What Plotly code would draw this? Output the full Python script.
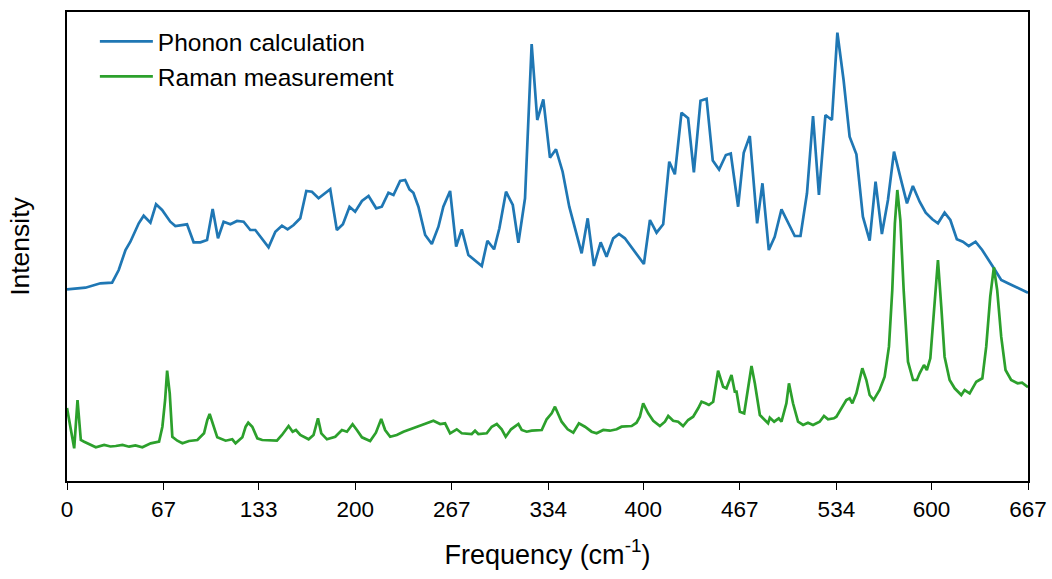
import plotly.graph_objects as go

# Calculated phonon density of states (arbitrary intensity units)
phonon_freq = [0, 12.8, 23.2, 31.3, 35.9, 40.6, 44.0, 49.8, 53.2, 57.9, 61.8, 66.0, 71.7, 75.2,
               83.3, 87.9, 92.6, 97.2, 101.1, 104.8, 108.7, 113.4, 118.0, 122.6, 127.2, 130.7,
               139.9, 144.6, 149.2, 153.1, 157.3, 161.9, 166.1, 170.0, 174.6, 182.7, 187.3,
               191.5, 196.1, 200.0, 204.7, 209.3, 214.6, 218.5, 223.1, 226.6, 231.2, 234.7,
               237.7, 240.4, 243.9, 248.6, 253.2, 257.8, 261.2, 265.9, 270.1, 274.0, 278.6,
               287.9, 291.8, 296.4, 300.1, 304.7, 309.4, 313.3, 317.9, 322.5, 326.4, 330.6,
               335.2, 339.4, 344.0, 348.6, 357.2, 361.4, 365.7, 370.4, 374.5, 379.1, 383.1,
               387.2, 400.4, 404.6, 409.2, 413.8, 418.0, 421.9, 426.5, 431.1, 435.1, 439.7,
               443.9, 448.2, 452.6, 457.3, 460.7, 465.8, 469.7, 473.9, 479.0, 482.7, 487.1,
               491.2, 495.9, 505.1, 509.1, 513.6, 517.8, 521.9, 526.4, 530.9, 534.7, 539.0,
               543.2, 547.9, 552.4, 557.1, 561.2, 565.6, 569.8, 574.0, 578.6, 583.0, 587.1,
               591.8, 596.0, 600.6, 604.5, 609.1, 613.1, 617.6, 621.8, 625.9, 630.6, 635.2,
               643.8, 648.4, 653.1, 662.3, 667.0]
phonon_int = [191.7, 193.3, 197.7, 198.3, 211, 231, 239.3, 257.7, 265.3, 258.3, 276.7, 271, 259.3, 255,
              256.7, 238.7, 238.7, 241, 272, 242.7, 259.3, 256.7, 260, 259.3, 251, 251,
              233.7, 249.3, 255.3, 251.7, 256, 262.7, 290, 289.3, 282.7, 291.7, 251,
              256.7, 274.3, 269.3, 280, 285, 272.7, 274.3, 288.3, 286, 300, 301,
              291.7, 288.3, 274.3, 246, 237, 254.3, 274.3, 290, 234.3, 251.7, 226,
              215, 240.3, 231.7, 252.7, 289.3, 276, 238.3, 282.7, 437, 361, 381.7,
              323.3, 331.7, 309.3, 274.3, 227.7, 262.7, 215, 238.7, 224.3, 242.7, 247,
              242.7, 217, 261, 248.3, 256.7, 319.3, 306.7, 368.3, 362.7, 308.7, 380.3,
              382.3, 320.5, 311.5, 326, 327.5, 274.3, 328.3, 345, 257.7, 297.7, 231,
              244.3, 271.7, 245, 245, 287.7, 365, 286, 366, 361, 448.3, 401,
              344.3, 326.7, 264.3, 240.3, 299.3, 247, 281, 329.3, 302.7, 277.7, 295,
              279.3, 268.3, 261.7, 257.7, 268.3, 261, 241.7, 239.3, 235, 239.3, 231,
              211.7, 201, 197.7, 191, 188.3]

# Measured Raman spectrum (arbitrary intensity units)
raman_freq = [0, 5.0, 7.3, 9.6, 11.9, 15.6, 20.0, 25.8, 30.2, 33.8, 38.5, 43.1, 47.5, 52.3, 58.1,
              63.9, 66.2, 68.1, 69.5, 71.3, 73.1, 76.6, 80.1, 84.7, 90.5, 95.1, 97.4, 99.0,
              100.9, 104.3, 110.1, 114.7, 117.0, 121.7, 124.0, 125.8, 128.6, 132.1, 135.5,
              139.0, 142.3, 145.7, 149.2, 153.8, 156.6, 158.9, 161.9, 167.7, 171.1, 174.2,
              176.5, 180.4, 186.2, 190.8, 194.3, 198.2, 201.2, 204.7, 210.4, 214.4, 218.1,
              220.8, 224.3, 228.9, 233.5, 239.3, 246.3, 254.3, 259.0, 262.4, 265.9, 270.5,
              274.0, 280.9, 283.2, 285.5, 291.3, 294.8, 298.3, 301.7, 304.5, 308.2, 313.3,
              315.6, 319.1, 322.5, 329.5, 332.9, 336.4, 338.7, 343.3, 347.5, 351.4, 355.3,
              359.5, 364.1, 367.6, 372.2, 376.8, 381.5, 384.9, 391.9, 395.3, 397.6, 399.9,
              403.4, 406.9, 411.5, 415.0, 417.3, 420.7, 424.2, 427.6, 431.1, 434.6, 438.1,
              440.4, 443.2, 445.5, 448.5, 451.9, 455.4, 457.7, 461.2, 463.5, 464.7, 467.0,
              470.0, 472.7, 475.1, 477.4, 480.9, 484.3, 486.6, 487.8, 490.8, 494.0, 495.9,
              499.3, 501.1, 503.9, 507.4, 510.9, 514.3, 517.8, 522.4, 525.4, 528.2, 532.3,
              534.0, 540.9, 543.2, 545.1, 547.9, 552.0, 554.8, 557.1, 559.9, 564.0, 567.5,
              570.5, 572.8, 574.6, 576.3, 578.4, 580.7, 583.7, 587.2, 589.9, 591.8, 594.8,
              596.8, 599.2, 601.5, 604.5, 606.8, 609.1, 612.6, 616.1, 620.7, 623.0, 626.5,
              631.1, 635.3, 638.0, 640.8, 643.3, 645.6, 648.4, 651.4, 655.3, 659.8, 662.9,
              667.0]
raman_int = [73, 32.7, 81, 41, 39.3, 37, 33.7, 36, 34.5, 35, 36, 34.3, 35.5, 33.7, 37.7,
             39.3, 54.3, 81, 110.3, 87.7, 44.3, 40.3, 37.7, 40, 41, 47.7, 61, 67,
             59.3, 43.7, 40.3, 41.7, 37.7, 43.7, 54.3, 58.3, 54.3, 42.7, 41,
             41, 41, 40.3, 46, 55, 49.3, 51, 46, 41.7, 46, 62.7,
             47.7, 41.7, 44.3, 51, 49.3, 56.7, 51, 43.7, 40, 48.3, 62,
             51, 44.3, 46, 49.3, 52.7, 56, 60.3, 57, 57.7, 47.7, 51.7,
             47.7, 47, 50.3, 47, 47.7, 54.3, 57, 51.7, 44.3, 51.7, 57,
             51, 49.3, 50.3, 51, 61.7, 67.7, 74.3, 59.3, 51.7, 48.3, 57.7,
             54.3, 49.3, 47.7, 51, 50.3, 51.7, 54.3, 55, 58.3, 64.3, 77.7,
             67.7, 60.3, 55, 59.3, 65, 60.3, 59.3, 55, 61, 64.3, 72.7,
             79.3, 77.7, 76, 79.3, 110.3, 94.3, 92.7, 106, 89.3, 89.3, 69.3,
             67.7, 94.3, 115, 97.7, 66, 61, 57.7, 63.3, 59.3, 62.7, 59.3,
             77.7, 97.7, 77.7, 59.3, 56, 58.3, 56, 59.3, 65, 61.7, 62.7,
             64.3, 81, 82.7, 77.7, 87.7, 112.7, 101, 86, 81, 91, 104.3,
             134.3, 191, 257.7, 291, 261, 191, 119.3, 101, 101, 107.7, 116,
             111, 122.7, 167.7, 221, 174.3, 124.3, 101, 92.7, 86, 91, 87.7,
             99.3, 102.7, 134.3, 184.3, 213.7, 191, 144.3, 111, 101, 97.7, 98.3,
             93.7]

tick_vals = [0, 67, 133, 200, 267, 334, 400, 467, 534, 600, 667]
tick_text = [str(v) for v in tick_vals]

font_family = "Liberation Sans, Arial, sans-serif"

fig = go.Figure()
fig.add_trace(go.Scatter(x=phonon_freq, y=phonon_int, mode="lines", name="Phonon calculation",
                         line=dict(color="#1f77b4", width=2.7)))
fig.add_trace(go.Scatter(x=raman_freq, y=raman_int, mode="lines", name="Raman measurement",
                         line=dict(color="#2ca02c", width=2.7)))

fig.update_layout(
    width=1052, height=579,
    margin=dict(l=67, r=24, t=12, b=98, autoexpand=False),
    paper_bgcolor="white", plot_bgcolor="white",
    font=dict(family=font_family, color="black", size=22),
    showlegend=True,
    legend=dict(x=0.029, y=0.985, xanchor="left", yanchor="top",
                bgcolor="rgba(255,255,255,0)", font=dict(size=24.5),
                tracegroupgap=0, itemwidth=53),
    xaxis=dict(range=[0, 667], tickmode="array", tickvals=tick_vals, ticktext=tick_text,
               showline=True, mirror=True, linecolor="black", linewidth=1.5,
               ticks="outside", ticklen=7, tickwidth=1.3, tickcolor="black",
               showgrid=False, zeroline=False, tickfont=dict(size=22.5), automargin=False,
               title=dict(text="Frequency (cm<sup>-1</sup>)", font=dict(size=27), standoff=24)),
    yaxis=dict(range=[0, 469], showline=True, mirror=True, linecolor="black", linewidth=1.5,
               showticklabels=False, ticks="", showgrid=False, zeroline=False, automargin=False,
               title=dict(text="Intensity", font=dict(size=26.5), standoff=28)),
)

fig.write_html("out.html")
